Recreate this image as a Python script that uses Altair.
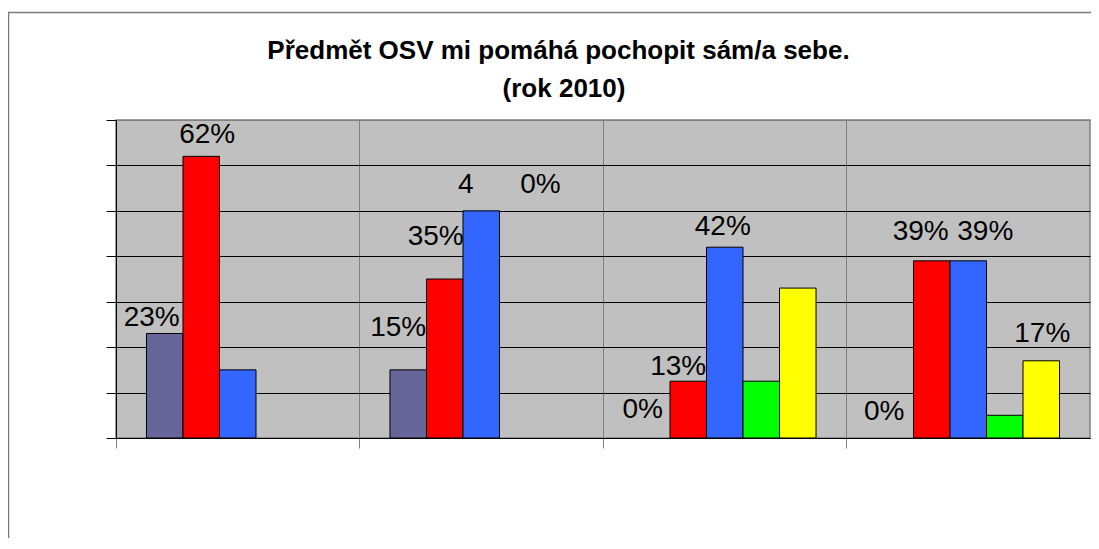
import altair as alt
import pandas as pd

categories = ["1", "2", "3", "4"]
series = ["s1", "s2", "s3", "s4", "s5"]
colors = ["#666699", "#FF0000", "#3366FF", "#00FF00", "#FFFF00"]

values = {
    "s1": [0.23, 0.15, 0.0, 0.0],
    "s2": [0.62, 0.35, 0.125, 0.39],
    "s3": [0.15, 0.50, 0.42, 0.39],
    "s4": [0.0, 0.0, 0.125, 0.05],
    "s5": [0.0, 0.0, 0.33, 0.17],
}
NB = "\u00a0"
labels = {
    "s1": ["23%", "15%", "0%", "0%"],
    "s2": ["62%", "35%", "13%", "39%"],
    "s3": ["", "4" + NB * 6 + "0%", "42%", "39%"],
    "s4": ["", "", "", ""],
    "s5": ["", "", "", "17%"],
}
title_lines = ["Předmět OSV mi pomáhá pochopit sám/a sebe.", "(rok 2010)"]

# label placement tweaks (dx, dy) of label centre relative to bar top centre
label_offsets = {
    "s1": [(-13, -16), (-10, -42), (-9, -28), (-11, -26)],
    "s2": [(6, -21), (-9, -42), (-10, -14), (-11, -29)],
    "s3": [(0, 0), (28, -26), (-2, -20), (17, -29)],
    "s4": [(0, 0), (0, 0), (0, 0), (0, 0)],
    "s5": [(0, 0), (0, 0), (0, 0), (1, -27)],
}

rows = []
for s in series:
    for i, c in enumerate(categories):
        rows.append({"cat": c, "series": s, "value": values[s][i],
                     "label": labels[s][i], "idx": f"{s}_{c}"})
df = pd.DataFrame(rows)

x_enc = alt.X("cat:N", sort=categories,
              scale=alt.Scale(paddingInner=0, paddingOuter=0),
              axis=alt.Axis(labels=False, title=None, bandPosition=0, grid=True,
                            gridColor="#808080", tickColor="#808080", tickSize=10,
                            domainColor="#000000"))
xo_enc = alt.XOffset("series:N", sort=series,
                     scale=alt.Scale(paddingInner=0, paddingOuter=0.835))
y_enc = alt.Y("value:Q",
              scale=alt.Scale(domain=[0, 0.7], nice=False),
              axis=alt.Axis(values=[0, 0.1, 0.2, 0.3, 0.4, 0.5, 0.6, 0.7],
                            labels=False, title=None, domainColor="#000000",
                            tickColor="#000000", tickSize=10,
                            gridColor={"condition": {"test": "datum.value >= 0.69", "value": "#808080"},
                                       "value": "#000000"}))

base = alt.Chart(df)

border = alt.Chart(pd.DataFrame({"a": [0]})).mark_rect(
    fillOpacity=0, stroke="#7a7a7a", strokeWidth=1.5
).encode(x=alt.value(-107.5), x2=alt.value(1300), y=alt.value(-107.5), y2=alt.value(800))

title_df = pd.DataFrame({"line": title_lines, "n": [0, 1]})
title1 = alt.Chart(title_df).transform_filter(alt.datum.n == 0).mark_text(
    font="Liberation Sans", fontSize=26, fontWeight="bold", color="#000000",
    align="center", baseline="alphabetic"
).encode(text="line:N", x=alt.value(442.5), y=alt.value(-61))
title2 = alt.Chart(title_df).transform_filter(alt.datum.n == 1).mark_text(
    font="Liberation Sans", fontSize=26, fontWeight="bold", color="#000000",
    align="center", baseline="alphabetic"
).encode(text="line:N", x=alt.value(448), y=alt.value(-23))

bars = base.transform_filter(alt.datum.value > 0).mark_bar(stroke="#000000", strokeWidth=1).encode(
    x=x_enc, xOffset=xo_enc, y=y_enc,
    color=alt.Color("series:N", sort=series,
                    scale=alt.Scale(domain=series, range=colors), legend=None),
)

layers = [bars]
for s in series:
    for i, c in enumerate(categories):
        if labels[s][i] == "":
            continue
        dx, dy = label_offsets[s][i]
        layers.append(
            base.transform_filter(alt.datum.idx == f"{s}_{c}").mark_text(
                font="Liberation Sans", fontSize=28, color="#000000",
                baseline="middle", align="center", dx=dx, dy=dy
            ).encode(x=alt.X("cat:N", sort=categories), xOffset=alt.XOffset("series:N", sort=series),
                     y=alt.Y("value:Q"), text="label:N")
        )

chart = alt.layer(border, title1, title2, *layers).properties(
    width=974, height=318,
    autosize=alt.AutoSizeParams(type="none"),
    padding={"left": 108, "top": 112, "right": 1, "bottom": 100},
).configure_view(fill="#C0C0C0", stroke="#808080", strokeWidth=1.5)

chart.save("out.html", embed_options={"renderer": "svg", "actions": False})
